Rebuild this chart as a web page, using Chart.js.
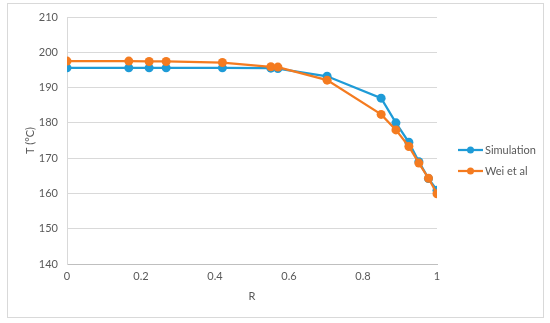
<!DOCTYPE html>
<html>
<head>
<meta charset="utf-8">
<script src="https://cdn.jsdelivr.net/npm/chart.js@4"></script>
<style>
  html, body { margin: 0; padding: 0; background: #fff; }
  #wrap { width: 550px; height: 323px; }
</style>
</head>
<body>
<div id="wrap"><canvas id="myChart" width="550" height="323"></canvas></div>
<script>
// values
var rPos    = [0, 0.167, 0.222, 0.268, 0.42, 0.551, 0.57, 0.703, 0.849, 0.889, 0.924, 0.951, 0.977, 1];
var simT    = [195.6, 195.6, 195.6, 195.6, 195.6, 195.5, 195.4, 193.2, 187.0, 180.0, 174.5, 169.0, 164.2, 160.9];
var weiT    = [197.5, 197.5, 197.4, 197.4, 197.1, 195.9, 195.8, 192.1, 182.4, 178.0, 173.3, 168.6, 164.3, 159.9];
var seriesNames = ['Simulation', 'Wei et al'];
var seriesColors = ['#1e9bd7', '#f47b20'];

function toPoints(xs, ys) {
    return xs.map(function (x, i) { return { x: x, y: ys[i] }; });
}

var textColor = '#595959';
var fontName = 'Lato';

// frame around the whole chart, like the office chart border
var frame = {
    id: 'frame',
    beforeDraw: function (chart) {
        var c = chart.ctx;
        c.save();
        c.fillStyle = '#fff';
        c.fillRect(0, 0, chart.width, chart.height);
        c.strokeStyle = '#d9d9d9';
        c.lineWidth = 1;
        c.strokeRect(7.5, 3.5, 536, 314);
        c.restore();
    }
};

// legend on the right: line with a dot, then label
var sideLegend = {
    id: 'sideLegend',
    afterDraw: function (chart) {
        var c = chart.ctx;
        var ys = [150, 171];
        c.save();
        c.font = '11px ' + fontName;
        c.textBaseline = 'middle';
        chart.data.datasets.forEach(function (ds, i) {
            var y = ys[i];
            c.strokeStyle = ds.borderColor;
            c.lineWidth = 2.25;
            c.beginPath();
            c.moveTo(458, y);
            c.lineTo(483, y);
            c.stroke();
            c.fillStyle = ds.borderColor;
            c.beginPath();
            c.arc(470.5, y, 3.5, 0, Math.PI * 2);
            c.fill();
            c.fillStyle = textColor;
            c.fillText(ds.label, 485, y + 0.5);
        });
        c.restore();
    }
};

var ctx = document.getElementById('myChart').getContext('2d');
var chart = new Chart(ctx, {
    type: 'line',
    data: {
        datasets: [{
            label: seriesNames[0],
            data: toPoints(rPos, simT),
            borderColor: seriesColors[0],
            backgroundColor: seriesColors[0],
            order: 1
        }, {
            label: seriesNames[1],
            data: toPoints(rPos, weiT),
            borderColor: seriesColors[1],
            backgroundColor: seriesColors[1],
            order: 0
        }]
    },
    options: {
        responsive: false,
        animation: false,
        events: [],
        layout: { padding: { left: 24, top: 17, right: 113, bottom: 20 } },
        elements: {
            line: { borderWidth: 2.25, tension: 0, fill: false },
            point: { radius: 4.5, borderWidth: 0, hoverRadius: 4.5 }
        },
        plugins: {
            legend: { display: false },
            tooltip: { enabled: false }
        },
        scales: {
            x: {
                type: 'linear',
                min: 0,
                max: 1,
                ticks: {
                    stepSize: 0.2,
                    color: textColor,
                    font: { family: fontName, size: 11 },
                    padding: 6,
                    maxRotation: 0,
                    callback: function (v) { return String(Math.round(v * 10) / 10); }
                },
                grid: { display: false, drawTicks: false },
                border: { color: '#bfbfbf' },
                title: {
                    display: true,
                    text: 'R',
                    color: textColor,
                    font: { family: fontName, size: 11 },
                    padding: { top: 4, bottom: 0 }
                },
                afterFit: function (scale) { scale.height = 323 - 264 - 20; }
            },
            y: {
                min: 140,
                max: 210,
                ticks: {
                    stepSize: 10,
                    color: textColor,
                    font: { family: fontName, size: 11 },
                    padding: 9
                },
                grid: { color: '#d9d9d9', drawTicks: false },
                border: { color: '#d9d9d9' },
                title: {
                    display: true,
                    text: 'T (°C)',
                    color: textColor,
                    font: { family: fontName, size: 11 },
                    padding: { top: 0, bottom: 4 }
                },
                afterFit: function (scale) { scale.width = 67 - 24; }
            }
        }
    },
    plugins: [frame, sideLegend]
});
</script>
</body>
</html>
